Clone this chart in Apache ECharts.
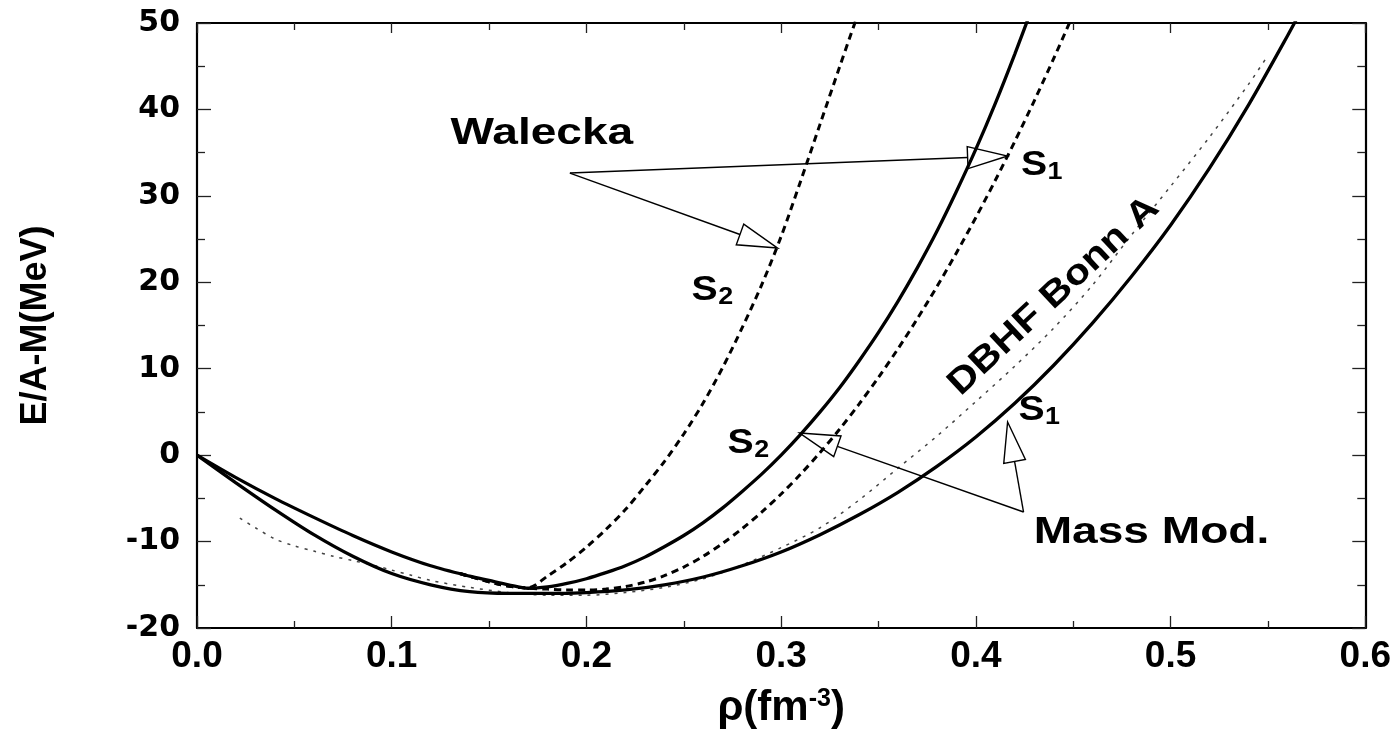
<!DOCTYPE html>
<html><head><meta charset="utf-8">
<script src="https://cdn.jsdelivr.net/npm/echarts@6/dist/echarts.min.js"></script>
<style>html,body{margin:0;padding:0;background:#fff}#c{width:1394px;height:734px}</style>
</head><body><div id="c"></div>
<script>
// ---- data ----
const rhoMassS2 = [0,0.02,0.04,0.06,0.08,0.10,0.12,0.14,0.15,0.16,0.17,0.18,0.19,0.20,0.21,0.22,0.23,0.24,0.25,0.26,0.27,0.28,0.29,0.30,0.31,0.32,0.33,0.34,0.35,0.36,0.37,0.38,0.39,0.40,0.41,0.42,0.43];
const eMassS2   = [0,-2.6,-5.0,-7.2,-9.3,-11.2,-12.8,-14.0,-14.5,-15.0,-15.4,-15.25,-14.85,-14.3,-13.6,-12.8,-11.8,-10.6,-9.3,-7.8,-6.1,-4.2,-2.2,0.0,2.4,5.0,7.8,10.9,14.2,17.8,21.7,25.9,30.5,35.4,40.7,46.4,52.4];

const rhoMassS1 = [0,0.02,0.04,0.06,0.08,0.10,0.12,0.14,0.16,0.18,0.20,0.22,0.24,0.26,0.28,0.30,0.32,0.34,0.36,0.38,0.40,0.42,0.44,0.46,0.48,0.50,0.52,0.54,0.56,0.57];
const eMassS1   = [0,-3.2,-6.3,-9.2,-11.7,-13.7,-15.0,-15.8,-16.0,-16.0,-15.9,-15.6,-15.0,-14.1,-12.8,-11.2,-9.2,-6.9,-4.3,-1.3,2.1,6.0,10.4,15.3,20.7,26.6,33.2,40.5,48.5,52.7];

const rhoWaleckaS2 = [0.135,0.145,0.155,0.165,0.17,0.18,0.19,0.20,0.21,0.22,0.23,0.24,0.25,0.26,0.27,0.28,0.29,0.30,0.31,0.32,0.33,0.34];
const eWaleckaS2   = [-13.7,-14.35,-14.95,-15.3,-15.35,-14.0,-12.45,-10.65,-8.6,-6.3,-3.6,-0.75,2.45,6.05,10.15,14.75,19.7,25.3,31.7,38.3,44.9,51.4];

const rhoWaleckaS1 = [0.135,0.145,0.155,0.165,0.17,0.18,0.19,0.20,0.21,0.22,0.23,0.24,0.25,0.26,0.27,0.28,0.29,0.30,0.31,0.32,0.33,0.34,0.35,0.36,0.37,0.38,0.39,0.40,0.41,0.42,0.43,0.44,0.45];
const eWaleckaS1   = [-13.7,-14.35,-14.95,-15.3,-15.4,-15.5,-15.6,-15.6,-15.5,-15.2,-14.7,-13.95,-12.95,-11.7,-10.2,-8.5,-6.6,-4.5,-2.2,0.3,3.0,5.9,9.0,12.3,15.8,19.5,23.4,27.5,31.8,36.3,41.0,45.9,51.0];

const rhoDBHF = [0.022,0.03,0.04,0.05,0.06,0.07,0.08,0.09,0.10,0.11,0.12,0.14,0.16,0.18,0.20,0.22,0.24,0.26,0.28,0.30,0.32,0.34,0.36,0.38,0.40,0.42,0.44,0.46,0.48,0.50,0.52,0.54,0.549];
const eDBHF   = [-7.3,-8.4,-9.7,-10.5,-11.1,-11.7,-12.2,-12.7,-13.3,-13.9,-14.5,-15.3,-15.9,-16.2,-16.2,-15.9,-15.3,-14.3,-12.7,-10.7,-8.4,-5.2,-1.5,2.2,6.2,10.3,14.7,19.7,25.5,31.1,36.8,42.9,45.9];

const xTickValues = [0,0.1,0.2,0.3,0.4,0.5,0.6];
const yTickValues = [-20,-10,0,10,20,30,40,50];

// ---- annotations (data coordinates) ----
const arrowDefs = [
  {from:[0.1915,32.64], to:[0.4163,34.61]},
  {from:[0.1915,32.64], to:[0.2982,23.96]},
  {from:[0.4245,-6.58], to:[0.3095,2.56]},
  {from:[0.4245,-6.58], to:[0.4163,3.83]}
];
const textDefs = [
  {text:'Walecka', at:[0.1771,37.15], rot:0, size:36, sx:1.28},
  {text:'Mass Mod.', at:[0.4902,-9.07], rot:0, size:36, sx:1.28},
  {text:'DBHF Bonn A', at:[0.4400,18.40], rot:43, size:36, sx:1.15}
];
const subDefs = [
  {main:'S', sub:'2', at:[0.2607,19.10]},
  {main:'S', sub:'2', at:[0.2792,1.34]},
  {main:'S', sub:'1', at:[0.4299,33.51]},
  {main:'S', sub:'1', at:[0.4286,5.22]}
];

const zip = (xs, ys) => xs.map((x, i) => [x, ys[i]]);
const FONT = 'Liberation Sans';

const chart = echarts.init(document.getElementById('c'), null, {renderer:'canvas'});

function lineSeries(name, xs, ys, style) {
  return {name, type:'line', data: zip(xs, ys), xAxisIndex:0, yAxisIndex:0,
    symbol:'none', showSymbol:false, smooth:0.3, silent:true, clip:true,
    lineStyle: style, z: 3};
}

const tickStyle = {color:'#222', width:1.3};
const option = {
  animation:false,
  backgroundColor:'#fff',
  grid:{left:197, right:28, top:23, bottom:106, containLabel:false},
  xAxis:[
    {type:'value', min:0, max:0.6, interval:0.1, position:'bottom',
     axisLine:{show:true, onZero:false, lineStyle:{color:'#000', width:2.2}},
     axisTick:{show:true, inside:true, length:12, lineStyle:tickStyle},
     minorTick:{show:true, splitNumber:2, length:7, lineStyle:tickStyle},
     splitLine:{show:false},
     axisLabel:{formatter:v => xTickValues.includes(Math.round(v*10)/10) ? v.toFixed(1) : '',
       fontFamily:FONT, fontWeight:'bold', fontSize:37, color:'#000', margin:10},
     name:'{a|ρ(fm}{s|-3}{a|)}', nameLocation:'middle', nameGap:59,
     nameTextStyle:{rich:{
       a:{fontFamily:FONT, fontWeight:'bold', fontSize:42, color:'#000'},
       s:{fontFamily:FONT, fontWeight:'bold', fontSize:25, color:'#000', verticalAlign:'top'}
     }}},
    {type:'value', min:0, max:0.6, interval:0.1, position:'top',
     axisLine:{show:true, onZero:false, lineStyle:{color:'#000', width:2.2}},
     axisTick:{show:true, inside:true, length:10, lineStyle:tickStyle},
     minorTick:{show:true, splitNumber:2, length:7, lineStyle:tickStyle},
     splitLine:{show:false}, axisLabel:{show:false}}
  ],
  yAxis:[
    {type:'value', min:-20, max:50, interval:10, position:'left',
     axisLine:{show:true, onZero:false, lineStyle:{color:'#000', width:2.2}},
     axisTick:{show:true, inside:true, length:14, lineStyle:tickStyle},
     minorTick:{show:true, splitNumber:2, length:8, lineStyle:tickStyle},
     splitLine:{show:false},
     axisLabel:{formatter:v => yTickValues.includes(v) ? String(v) : '',
       fontFamily:'DejaVu Sans', fontWeight:'bold', fontSize:30, color:'#000', margin:17},
     name:'E/A-M(MeV)', nameLocation:'middle', nameGap:143, nameRotate:90,
     nameTextStyle:{fontFamily:FONT, fontWeight:'bold', fontSize:36, color:'#000'}},
    {type:'value', min:-20, max:50, interval:10, position:'right',
     axisLine:{show:true, onZero:false, lineStyle:{color:'#000', width:2.2}},
     axisTick:{show:true, inside:true, length:13, lineStyle:tickStyle},
     minorTick:{show:true, splitNumber:2, length:8, lineStyle:tickStyle},
     splitLine:{show:false}, axisLabel:{show:false}}
  ],
  series:[
    lineSeries('DBHF Bonn A', rhoDBHF, eDBHF, {color:'#444', width:1.5, type:[3,6]}),
    lineSeries('Walecka S1', rhoWaleckaS1, eWaleckaS1, {color:'#000', width:3, type:[7,5]}),
    lineSeries('Walecka S2', rhoWaleckaS2, eWaleckaS2, {color:'#000', width:3, type:[7,5]}),
    lineSeries('Mass Mod. S1', rhoMassS1, eMassS1, {color:'#000', width:3.3, type:'solid'}),
    lineSeries('Mass Mod. S2', rhoMassS2, eMassS2, {color:'#000', width:3.3, type:'solid'})
  ]
};
chart.setOption(option);

// ---- annotations placed through the chart's own scales ----
function toPx(p){ return chart.convertToPixel({xAxisIndex:0, yAxisIndex:0}, p); }
const elems = [];
arrowDefs.forEach(a => {
  const s = toPx(a.from), t = toPx(a.to);
  const dx = t[0]-s[0], dy = t[1]-s[1], len = Math.hypot(dx, dy);
  const ux = dx/len, uy = dy/len, nx = -uy, ny = ux;
  const L = 40, W = 11;
  const bx = t[0]-L*ux, by = t[1]-L*uy;
  elems.push({type:'polyline', z:50, silent:true,
    shape:{points:[s,[bx,by]]}, style:{stroke:'#000', lineWidth:1.4, fill:null}});
  elems.push({type:'polygon', z:50, silent:true,
    shape:{points:[t,[bx+W*nx, by+W*ny],[bx-W*nx, by-W*ny]]},
    style:{stroke:'#000', lineWidth:1.4, fill:null}});
});
textDefs.forEach(d => {
  const p = toPx(d.at);
  elems.push({type:'text', z:60, silent:true, x:p[0], y:p[1],
    rotation: d.rot*Math.PI/180, scaleX:d.sx, scaleY:1,
    style:{text:d.text, font:'bold '+d.size+'px "'+FONT+'"', fill:'#000',
      align:'center', verticalAlign:'middle', textAlign:'center', textVerticalAlign:'middle'}});
});
subDefs.forEach(d => {
  const p = toPx(d.at);
  elems.push({type:'text', z:60, silent:true, x:p[0], y:p[1], scaleX:1.12,
    style:{text:d.main, font:'bold 35px "'+FONT+'"', fill:'#000',
      align:'center', verticalAlign:'middle', textAlign:'center', textVerticalAlign:'middle'}});
  elems.push({type:'text', z:60, silent:true, x:p[0]+21, y:p[1]+7, scaleX:1.12,
    style:{text:d.sub, font:'bold 24px "'+FONT+'"', fill:'#000',
      align:'center', verticalAlign:'middle', textAlign:'center', textVerticalAlign:'middle'}});
});
chart.setOption({graphic:{elements:elems}});
</script>
</body></html>
